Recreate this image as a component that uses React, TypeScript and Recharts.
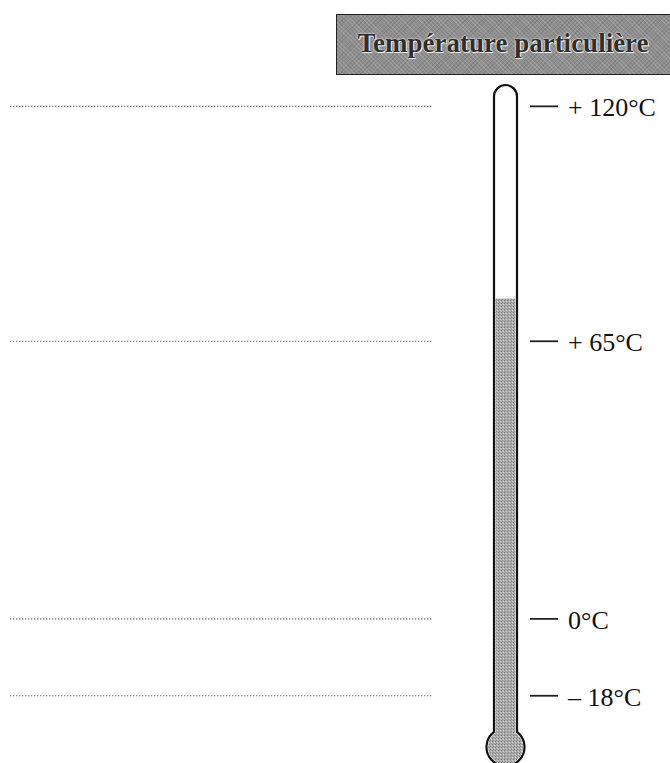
import React from 'react';
import { ComposedChart, Bar, XAxis, YAxis } from 'recharts';

const title = 'Température particulière';
const categories = ['thermomètre'];
const tubeBottom = [-30];
const tubeTop = [125];
const levelValues = [75];
const tempTicks = [120, 65, 0, -18];
const tickLabels = ['+ 120°C', '+ 65°C', '0°C', '– 18°C'];
const yDomain: [number, number] = [-30, 125];

const data = categories.map((name, i) => ({
  name,
  tube: [tubeBottom[i], tubeTop[i]],
  level: [tubeBottom[i], levelValues[i]],
}));

const BULB_R = 19;
const FONT = '"Liberation Serif", "Times New Roman", serif';

function TubeShape(props: any) {
  const { x, y, width: w, height: h } = props;
  const r = w / 2;
  const cy = y + h;
  const dy = Math.sqrt(BULB_R * BULB_R - r * r);
  const d = `M${x},${cy - dy} L${x},${y + r} A${r},${r} 0 0 1 ${x + w},${y + r} L${x + w},${cy - dy} A${BULB_R},${BULB_R} 0 1 1 ${x},${cy - dy} Z`;
  return <path d={d} fill="#fff" stroke="#111" strokeWidth={2.2} />;
}

function LevelShape(props: any) {
  const { x, y, width: w, height: h } = props;
  const inset = 1.5;
  const cy = y + h;
  const rr = BULB_R - inset;
  const hw = w / 2 - inset;
  const dy = Math.sqrt(rr * rr - hw * hw);
  const d = `M${x + inset},${cy - dy} L${x + inset},${y} L${x + w - inset},${y} L${x + w - inset},${cy - dy} A${rr},${rr} 0 1 1 ${x + inset},${cy - dy} Z`;
  return (
    <g>
      <defs>
        <pattern id="stipple" width="3" height="3" patternUnits="userSpaceOnUse">
          <rect width="3" height="3" fill="#ababab" />
          <rect x="0" y="0" width="1" height="1" fill="#7c7c7c" />
          <rect x="2" y="1" width="1" height="1" fill="#d2d2d2" />
          <rect x="1" y="2" width="1" height="1" fill="#8f8f8f" />
        </pattern>
      </defs>
      <path d={d} fill="url(#stipple)" />
    </g>
  );
}

function RightTick(props: any) {
  const { x, y, payload } = props;
  const idx = tempTicks.indexOf(payload.value);
  return (
    <text x={x} y={y} dy={10} textAnchor="start" fontFamily={FONT} fontSize={26} fill="#111">
      {tickLabels[idx]}
    </text>
  );
}

export default function App() {
  return (
    <div style={{ position: 'absolute', left: 0, top: 0, width: 670, height: 763, background: '#fff', fontFamily: FONT, overflow: 'hidden' }}>
      <div
        style={{
          position: 'absolute',
          left: 336,
          top: 14,
          width: 334,
          height: 59,
          boxSizing: 'content-box',
          borderTop: '1.5px solid #222',
          borderBottom: '1.5px solid #222',
          borderLeft: '1.5px solid #222',
          backgroundColor: '#8e8e8e',
          backgroundImage:
            'repeating-linear-gradient(45deg, rgba(255,255,255,0.14) 0px, rgba(255,255,255,0.14) 1px, transparent 1px, transparent 3px), repeating-linear-gradient(-45deg, rgba(0,0,0,0.10) 0px, rgba(0,0,0,0.10) 1px, transparent 1px, transparent 3px)',
          display: 'flex',
          alignItems: 'center',
          justifyContent: 'center',
          zIndex: 2,
        }}
      >
        <span
          style={{
            fontFamily: FONT,
            fontWeight: 'bold',
            fontSize: 27,
            color: '#2e2e2e',
            marginLeft: -2,
            marginTop: -2,
            textShadow: '0 0 2px #fff, 0 0 1px #fff, 1px 1px 0 #e8e8e8',
          }}
        >
          {title}
        </span>
      </div>
      <ComposedChart
        width={670}
        height={763}
        data={data}
        margin={{ top: 85, right: 0, bottom: 16, left: 0 }}
      >
        <XAxis xAxisId="tube" dataKey="name" type="category" hide padding={{ left: 49, right: 0 }} />
        <XAxis xAxisId="level" dataKey="name" type="category" hide padding={{ left: 49, right: 0 }} />
        <YAxis
          yAxisId="left"
          orientation="left"
          type="number"
          domain={yDomain}
          allowDataOverflow
          ticks={tempTicks}
          interval={0}
          width={432}
          axisLine={false}
          tickSize={422}
          tickLine={{ stroke: '#666', strokeWidth: 1.2, strokeDasharray: '1.3 1.7' }}
          tick={() => <g />}
        />
        <YAxis
          yAxisId="right"
          orientation="right"
          type="number"
          domain={yDomain}
          ticks={tempTicks}
          interval={0}
          width={140}
          axisLine={false}
          tickSize={28}
          tickMargin={10}
          tickLine={{ stroke: '#222', strokeWidth: 1.8 }}
          tick={<RightTick />}
        />
        <Bar
          xAxisId="tube"
          yAxisId="right"
          dataKey="tube"
          barSize={23}
          shape={<TubeShape />}
          isAnimationActive={false}
        />
        <Bar
          xAxisId="level"
          yAxisId="right"
          dataKey="level"
          barSize={23}
          shape={<LevelShape />}
          isAnimationActive={false}
        />
      </ComposedChart>
    </div>
  );
}
